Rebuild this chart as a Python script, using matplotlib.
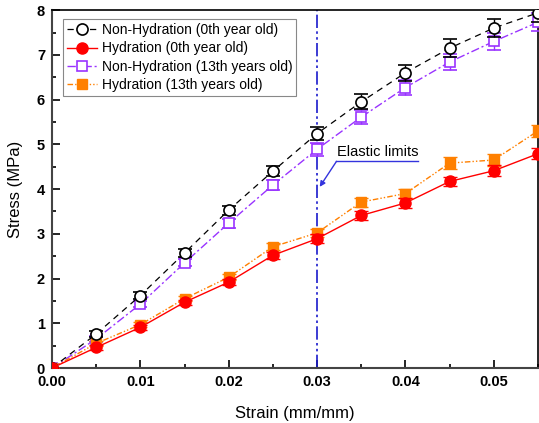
import matplotlib
matplotlib.use("Agg")
import matplotlib.pyplot as plt
from matplotlib.ticker import MultipleLocator, FormatStrFormatter
from matplotlib.lines import Line2D

plt.rcParams['font.family'] = ['Liberation Sans', 'DejaVu Sans']

strain = [0.0, 0.005, 0.01, 0.015, 0.02, 0.025, 0.03, 0.035, 0.04, 0.045, 0.05, 0.055]

nonhyd_0 = [0.0, 0.76, 1.62, 2.57, 3.53, 4.40, 5.24, 5.95, 6.60, 7.15, 7.60, 7.94]
nonhyd_0_err = [0.0, 0.06, 0.07, 0.09, 0.10, 0.11, 0.15, 0.17, 0.18, 0.20, 0.20, 0.20]
hyd_0 = [0.0, 0.46, 0.91, 1.47, 1.92, 2.52, 2.89, 3.41, 3.69, 4.17, 4.41, 4.79]
hyd_0_err = [0.0, 0.05, 0.06, 0.06, 0.07, 0.08, 0.10, 0.10, 0.11, 0.11, 0.12, 0.12]
nonhyd_13 = [0.0, 0.65, 1.43, 2.35, 3.24, 4.09, 4.89, 5.61, 6.27, 6.84, 7.30, 7.73]
nonhyd_13_err = [0.0, 0.06, 0.07, 0.08, 0.10, 0.12, 0.14, 0.15, 0.17, 0.18, 0.19, 0.20]
hyd_13 = [0.0, 0.55, 0.97, 1.55, 2.03, 2.71, 3.02, 3.71, 3.90, 4.58, 4.65, 5.30]
hyd_13_err = [0.0, 0.05, 0.05, 0.06, 0.07, 0.08, 0.09, 0.10, 0.11, 0.13, 0.13, 0.14]

labels = ["Non-Hydration (0th year old)", "Hydration (0th year old)",
          "Non-Hydration (13th years old)", "Hydration (13th years old)"]

elastic_limit = 0.03

fig = plt.figure(figsize=(5.39, 4.23), dpi=100)
ax = fig.add_axes([0.0965, 0.130, 0.9015, 0.846])

purple = '#9933ff'
orange = '#ff8000'

styles = [
    dict(color='black', ls=(0, (5, 4)), lw=0.9, marker='o', ms=8, mfc='white', mec='black', mew=1.2),
    dict(color='#ff0000', ls='-', lw=1.0, marker='o', ms=8, mfc='#ff0000', mec='#ff0000', mew=1.0),
    dict(color=purple, ls=(0, (6, 2, 1.5, 2)), lw=1.0, marker='s', ms=7, mfc='white', mec=purple, mew=1.2),
    dict(color=orange, ls=(0, (4, 1.5, 1, 1.5, 1, 1.5)), lw=1.0, marker='s', ms=7, mfc=orange, mec=orange, mew=1.0),
]
series = [(nonhyd_0, nonhyd_0_err), (hyd_0, hyd_0_err), (nonhyd_13, nonhyd_13_err), (hyd_13, hyd_13_err)]
zs = [4, 4, 3, 3]

for (vals, err), st, z in zip(series, styles, zs):
    ax.errorbar(strain, vals, yerr=err, capsize=5, elinewidth=1, zorder=z, **st)

ax.axvline(elastic_limit, color='#1a1acc', ls=(0, (8, 2, 1.5, 2, 1.5, 2)), lw=1.2, zorder=2)

# callout: underline under the text, then arrow to the line
ax.plot([0.0322, 0.0414], [4.62, 4.62], color='#3333dd', lw=1.0, zorder=5)
ax.annotate("", xy=(0.0303, 4.05), xytext=(0.0322, 4.62),
            arrowprops=dict(arrowstyle='-|>', color='#3333dd', lw=1.0, mutation_scale=8,
                            shrinkA=0, shrinkB=0), zorder=5)
ax.text(0.0323, 4.68, "Elastic limits", fontsize=10.5, ha='left', va='bottom', zorder=5)

ax.set_xlim(0, 0.055)
ax.set_ylim(0, 8)
ax.xaxis.set_major_locator(MultipleLocator(0.01))
ax.xaxis.set_minor_locator(MultipleLocator(0.005))
ax.yaxis.set_major_locator(MultipleLocator(1))
ax.yaxis.set_minor_locator(MultipleLocator(0.5))
ax.xaxis.set_major_formatter(FormatStrFormatter('%.2f'))
ax.tick_params(which='major', direction='in', length=6, width=1.2, labelsize=10.5, pad=5)
ax.tick_params(which='minor', direction='in', length=3, width=1.2)
for lab in ax.get_xticklabels() + ax.get_yticklabels():
    lab.set_fontweight('bold')
for sp in ['left', 'bottom']:
    ax.spines[sp].set_linewidth(1.5)
    ax.spines[sp].set_color('#444444')
for sp in ['top', 'right']:
    ax.spines[sp].set_linewidth(1.2)

ax.set_xlabel("Strain (mm/mm)", fontsize=12, labelpad=12)
ax.set_ylabel("Stress (MPa)", fontsize=12, labelpad=10)

handles = [Line2D([], [], **st) for st in styles]
leg = ax.legend(handles, labels, loc='upper left', bbox_to_anchor=(0.022, 0.975), fontsize=10,
                frameon=True, fancybox=False, edgecolor='#888888', framealpha=1, handlelength=2.2,
                handletextpad=0.3, labelspacing=0.3, borderpad=0.3, borderaxespad=0)
leg.get_frame().set_linewidth(0.8)

fig.savefig("out.png", dpi=100)
